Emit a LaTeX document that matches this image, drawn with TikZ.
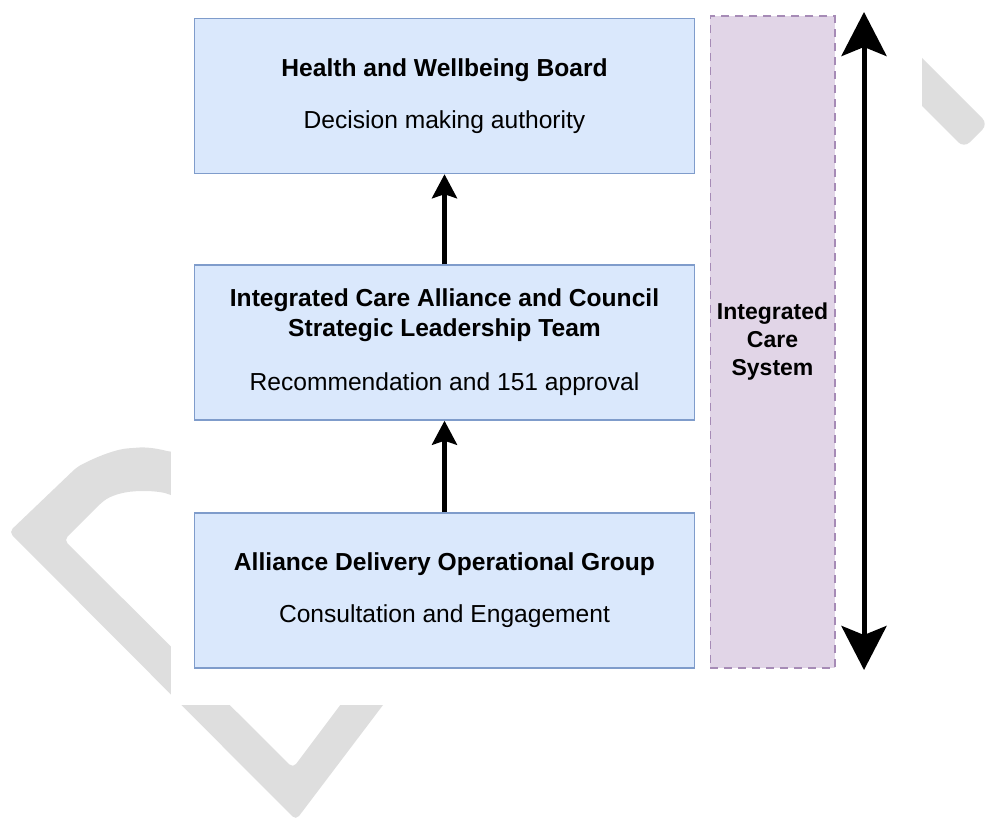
\documentclass[tikz,border=0pt]{standalone}
\usepackage{fontspec}
\setmainfont{Liberation Sans}
\usetikzlibrary{arrows.meta}

\definecolor{boxfill}{HTML}{DAE8FC}
\definecolor{boxline}{HTML}{7F9CCB}
\definecolor{icsfill}{HTML}{E1D5E7}
\definecolor{icsline}{HTML}{A68BB6}
\definecolor{wmark}{RGB}{222,222,222}

\begin{document}
\begin{tikzpicture}[x=0.5pt, y=-0.5pt]
  \useasboundingbox (0,0) rectangle (985,819);

  % watermark, partly hidden behind the chart
  \fill[wmark, rounded corners=2.5pt] (171,452) .. controls (155,448) and (145,447) .. (133,448)
    .. controls (118,449) and (100,455) .. (77,467) -- (9,532) -- (296,820) -- (408,672)
    -- (365,672) -- (293,768) -- (64,540) -- (100,504)
    .. controls (110,496) and (122,492) .. (140,491) .. controls (152,491) and (162,492) .. (171,495)
    -- (200,505) -- (200,452) -- cycle;
  \fill[wmark, rounded corners=4pt] (900,36) -- (988,124) -- (964,148) -- (900,84) -- cycle;
  \fill[white] (171,0) rectangle (922,705);

  \begin{scope}[every node/.style={rectangle, draw=boxline, fill=boxfill, line width=0.75pt,
      minimum width=250pt, minimum height=77.5pt, align=center, font=\fontsize{12.3}{15}\selectfont}]
    \node (board) at (444.5,96) {\textbf{Health and Wellbeing Board}\\[11pt]
      Decision making authority};
    \node (slt) at (444.5,342.5) {\textbf{Integrated Care Alliance and Council}\\
      \textbf{Strategic Leadership Team}\\[12pt] Recommendation and 151 approval};
    \node (group) at (444.5,590.5) {\textbf{Alliance Delivery Operational Group}\\[11pt]
      Consultation and Engagement};
  \end{scope}

  \node (ics) at (772.5,342) [rectangle, draw=icsline, fill=icsfill, line width=0.75pt,
    dash pattern=on 4pt off 3pt, minimum width=60.5pt, minimum height=326pt, align=center,
    font=\fontsize{11.5}{14}\selectfont\bfseries] {Integrated\\Care\\System};

  \coordinate (top) at (864,12);
  \coordinate (bottom) at (864,670);

  \begin{scope}[line width=2.2pt, -{Stealth[length=12pt, width=12.5pt, inset=2pt]}]
    \draw (slt) to (board);
    \draw (group) to (slt);
  \end{scope}
  \draw[line width=2.5pt, {Stealth[length=22pt, width=22.5pt, inset=4.5pt]}-{Stealth[length=22pt, width=22.5pt, inset=4.5pt]}]
    (top) to (bottom);
\end{tikzpicture}
\end{document}
